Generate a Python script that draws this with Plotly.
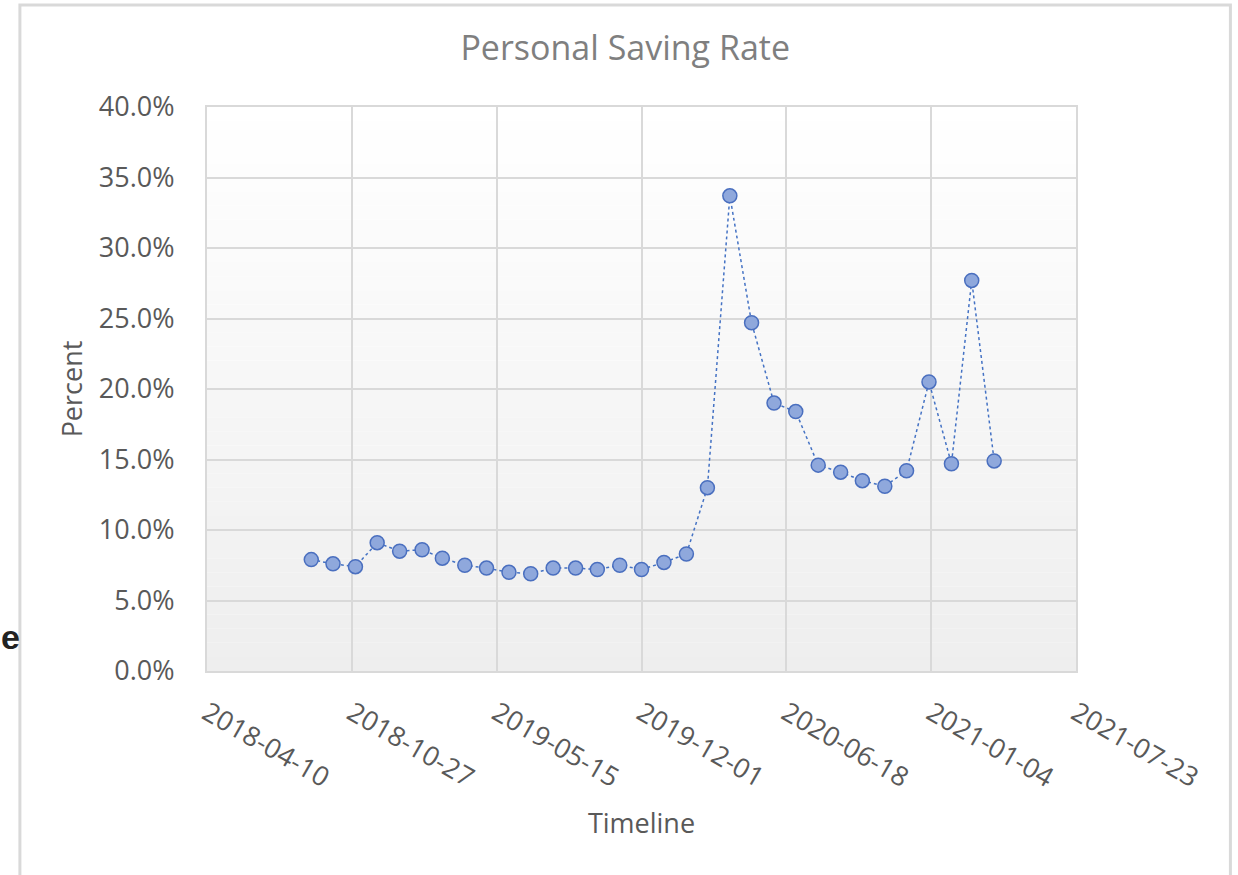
import plotly.graph_objects as go

dates = ["2018-09-01", "2018-10-01", "2018-11-01", "2018-12-01", "2019-01-01", "2019-02-01",
         "2019-03-01", "2019-04-01", "2019-05-01", "2019-06-01", "2019-07-01", "2019-08-01",
         "2019-09-01", "2019-10-01", "2019-11-01", "2019-12-01", "2020-01-01", "2020-02-01",
         "2020-03-01", "2020-04-01", "2020-05-01", "2020-06-01", "2020-07-01", "2020-08-01",
         "2020-09-01", "2020-10-01", "2020-11-01", "2020-12-01", "2021-01-01", "2021-02-01",
         "2021-03-01", "2021-04-01"]
saving_rate = [7.9, 7.6, 7.4, 9.1, 8.5, 8.6, 8.0, 7.5, 7.3, 7.0, 6.9, 7.3,
               7.3, 7.2, 7.5, 7.2, 7.7, 8.3, 13.0, 33.7, 24.7, 19.0, 18.4, 14.6,
               14.1, 13.5, 13.1, 14.2, 20.5, 14.7, 27.7, 14.9]
title_text = "Personal Saving Rate"
x_title = "Timeline"
y_title = "Percent"

FONT = "Open Sans"
fig = go.Figure()

# plot-area gradient background (white top -> light gray bottom)
n = 40
for i in range(n):
    g = int(round(255 - (255 - 238) * (1 - (i + 0.5) / n)))
    fig.add_shape(type="rect", xref="x domain", yref="y domain",
                  x0=0, x1=1, y0=i / n, y1=(i + 1) / n,
                  fillcolor=f"rgb({g},{g},{g})", line_width=0, layer="below")

fig.add_trace(go.Scatter(
    x=dates, y=saving_rate, mode="lines+markers",
    line=dict(color="#4472c4", width=1.5, dash="dot"),
    marker=dict(size=14, color="#8fa8dc", line=dict(color="#4a6fbf", width=1.5)),
    showlegend=False, cliponaxis=False))

fig.update_layout(
    width=1238, height=875,
    margin=dict(l=207, r=162, t=107, b=204),
    paper_bgcolor="white", plot_bgcolor="rgba(0,0,0,0)",
    font=dict(family=FONT, color="#595959"),
    title=dict(text=title_text, x=0.505, xanchor="center", y=0.945, yanchor="middle",
               font=dict(size=34, color="#7f7f7f", family=FONT)),
)

fig.update_xaxes(
    type="date", range=["2018-04-10", "2021-07-23"],
    tick0="2018-04-10", dtick=200 * 86400000, tickformat="%Y-%m-%d",
    tickangle=30, tickfont=dict(size=27, color="#595959"),
    showgrid=True, gridcolor="#d9d9d9", gridwidth=2,
    showline=True, linecolor="#d9d9d9", linewidth=2, mirror=True,
    ticks="", zeroline=False, ticklabelstandoff=14,
    title=dict(text=x_title, font=dict(size=27, color="#595959"), standoff=20),
)
fig.update_yaxes(
    range=[0, 40], dtick=5, tickformat=".1f", ticksuffix="%",
    tickfont=dict(size=27, color="#595959"),
    showgrid=True, gridcolor="#d9d9d9", gridwidth=2,
    showline=True, linecolor="#d9d9d9", linewidth=2, mirror=True,
    ticks="", zeroline=False, ticklabelstandoff=25,
    title=dict(text=y_title, font=dict(size=27, color="#595959"), standoff=8),
)

# outer chart border
fig.add_shape(type="rect", xref="paper", yref="paper",
              x0=-0.2153, x1=1.1777, y0=-0.5, y1=1.1809,
              line=dict(color="#d9d9d9", width=3), fillcolor="rgba(0,0,0,0)", layer="below")

# fragment of neighbouring heading
fig.add_annotation(text="<b>e</b>", xref="paper", yref="paper",
                   x=(0 - 207) / 868.7, y=(671 - 637) / 564, xanchor="left", yanchor="middle",
                   showarrow=False, borderpad=0,
                   font=dict(size=34, color="#222222", family="Liberation Sans"))

fig.write_html("out.html", config={"displayModeBar": False},
               post_script="document.body.style.margin='0';document.body.style.padding='0';")
